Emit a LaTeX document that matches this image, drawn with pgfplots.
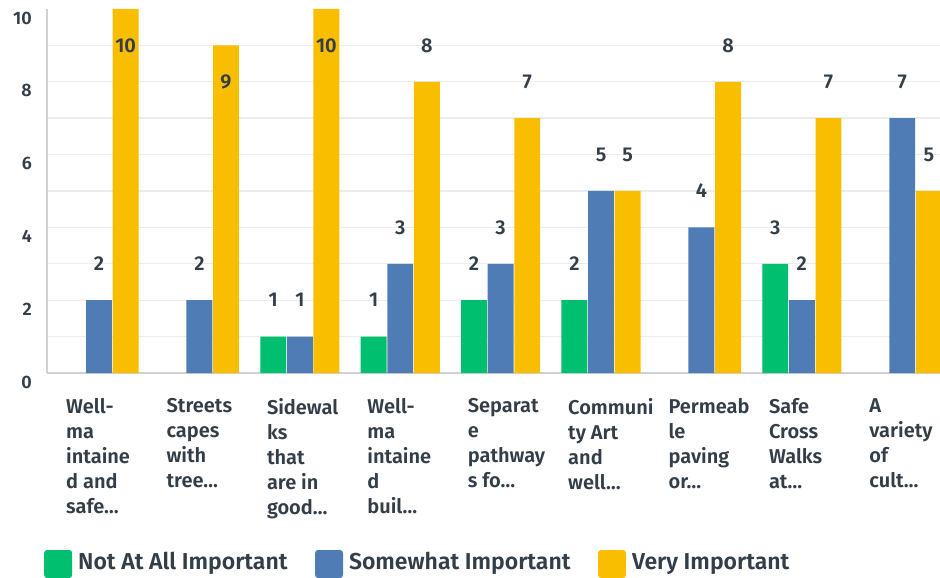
\documentclass[border=0pt]{standalone}
\usepackage{pgfplots}
\pgfplotsset{compat=1.18}
\usepackage{pgfplotstable}
\usepackage{fontspec}
\setmainfont{Fira Sans SemiBold}
\definecolor{cNot}{HTML}{00BF6F}
\definecolor{cSome}{HTML}{507CB6}
\definecolor{cVery}{HTML}{F9BE00}
\definecolor{txt}{HTML}{333E48}
\definecolor{gridc}{HTML}{ECECEC}
\definecolor{axc}{HTML}{D0D0D0}
\newcommand{\el}{…}

\pgfplotstableread{
x y
2 1
3 1
4 2
5 2
7 3
}\notatall
\pgfplotstableread{
x y
0 2
1 2
2 1
3 3
4 3
5 5
6 4
7 2
8 7
}\somewhat
\pgfplotstableread{
x y
3 8
4 7
5 5
6 8
7 7
8 5
}\very
\pgfplotstableread{
x y
0 10
1 9
2 10
}\verytop

\pgfplotsset{
  vlabels/.style 2 args={
    nodes near coords,
    every node near coord/.append style={font=\fontsize{20}{20}\selectfont, text=txt, anchor=center, yshift=#1, xshift=#2},
  }
}

\begin{document}
\begin{tikzpicture}
\begin{axis}[
  at={(0,0)}, anchor=south west, scale only axis,
  width=893pt, height=364pt,
  xmin=-0.518, xmax=8.376, ymin=0, ymax=10,
  axis x line*=bottom, axis y line*=left,
  axis line style={axc, line width=2pt, -},
  major tick length=0pt, minor tick length=0pt,
  tick style={draw=none},
  ytick={0,2,4,6,8}, minor ytick={1,3,5,7,9},
  extra y ticks={10}, extra y tick style={grid=none},
  ymajorgrids, yminorgrids,
  grid style={gridc, line width=1.4pt},
  minor grid style={gridc, line width=1.4pt},
  /pgf/number format/assume math mode=true,
  yticklabel style={font=\fontsize{18}{18}\selectfont, text=txt, anchor=east, inner sep=0pt, xshift=-15pt, yshift=-9pt},
  xtick={0,1,2,3,4,5,6,7,8},
  xticklabels={{Well-\\ma\\intaine\\d and\\safe\el},
               {Streets\\capes\\with\\tree\el},
               {Sidewal\\ks\\that\\are in\\good\el},
               {Well-\\ma\\intaine\\d\\buil\el},
               {Separat\\e\\pathway\\s fo\el},
               {Communi\\ty Art\\and\\well\el},
               {Permeab\\le\\paving\\or\el},
               {Safe\\Cross\\Walks\\at\el},
               {A\\variety\\of\\cult\el}},
  xticklabel style={font=\fontsize{20}{25}\selectfont, text=txt, align=left, anchor=north west, inner sep=0pt, xshift=-33pt, yshift=-25pt},
  legend columns=3,
  legend style={at={(axis description cs:0,0)}, anchor=west, xshift=-3pt, yshift=-191pt,
    draw=none, fill=none, inner sep=0pt,
    font=\fontsize{23}{23}\selectfont, text=txt,
    nodes={inner sep=0pt},
    /tikz/every odd column/.append style={column sep=6pt},
    /tikz/every even column/.append style={column sep=27.5pt}},
  legend image code/.code={\fill[#1, draw=none, rounded corners=3pt] (0pt,-16pt) rectangle (28pt,12pt);},
]
\addplot[ybar, bar width=0.258, bar shift=-0.265, fill=cNot, draw=none, vlabels={36.4pt}{-26.6pt}] table[x=x, y=y] {\notatall};
\addlegendentry{Not At All Important}
\addplot[ybar, bar width=0.258, bar shift=0, fill=cSome, draw=none, vlabels={36.4pt}{0pt}] table[x=x, y=y] {\somewhat};
\addlegendentry{Somewhat Important}
\addplot[ybar, bar width=0.258, bar shift=0.265, fill=cVery, draw=none, vlabels={36.4pt}{26.6pt}] table[x=x, y=y] {\very};
\addlegendentry{Very Important}
\addplot[ybar, bar width=0.258, bar shift=0.265, fill=cVery, draw=none, vlabels={-36.4pt}{26.6pt}, forget plot] table[x=x, y=y] {\verytop};
\end{axis}
\pgfresetboundingbox
\path[use as bounding box] (-47pt,-205pt) rectangle (893pt,373pt);
\end{tikzpicture}
\end{document}
